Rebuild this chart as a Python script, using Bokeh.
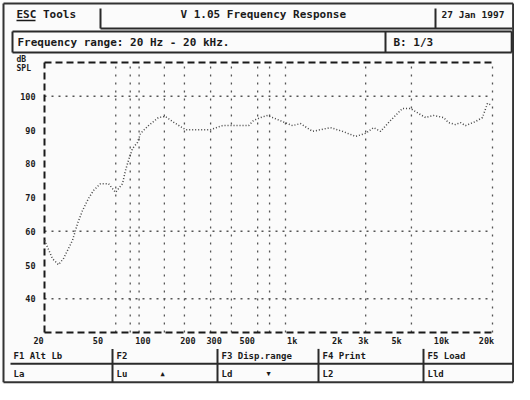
import math
from bokeh.plotting import figure
from bokeh.models import Range1d, LogScale
from bokeh.embed import file_html
from bokeh.resources import INLINE
from bokeh.core.properties import value

# ---------------- data ----------------
freq_hz = [20, 22.6, 24.8, 26.8, 30.8, 33.3, 35.9, 39.4, 42.6, 47.4,
           53.7, 59.8, 66.6, 69.7, 73.0, 77.7, 83.9, 87.9, 99.3, 116,
           129, 144, 176, 229, 259, 311, 465, 502, 559, 623,
           916, 1036, 1247, 1646, 1982, 2421, 2825, 3194, 3557, 4087,
           4620, 4991, 5645, 6386, 7125, 8052, 9398, 10150, 11310, 12210,
           13190, 15380, 17140, 18520, 19800]
level_db = [57.3, 51.9, 50.1, 51.9, 57.3, 62.3, 66.1, 69.7, 72.1, 74.1,
            74.1, 71.5, 74.1, 78.0, 81.0, 84.5, 86.3, 89.0, 91.3, 93.7,
            94.0, 92.5, 90.1, 90.1, 90.1, 91.3, 91.3, 92.8, 93.7, 94.3,
            91.3, 91.9, 89.6, 90.7, 89.6, 88.1, 89.0, 90.7, 89.6, 92.5,
            94.9, 96.4, 96.4, 94.9, 93.7, 94.3, 93.7, 92.2, 91.6, 92.2,
            91.3, 92.5, 93.7, 97.9, 97.3]

x_tick_values = [20, 50, 100, 200, 300, 500, 1000, 2000, 3000, 5000, 10000, 20000]
x_tick_labels = ["20", "50", "100", "200", "300", "500", "1k", "2k", "3k", "5k", "10k", "20k"]
y_tick_values = [100, 90, 80, 70, 60, 50, 40]
y_tick_labels = ["100", "90", "80", "70", "60", "50", "40"]
v_grid_hz = [60, 75, 86, 127, 173, 259, 357, 535, 643, 822, 2830, 5730, 20000]
h_grid_db = [100, 60, 40]
f_min, f_max = 20, 20000
db_min, db_max = 30, 110

title_text = "V 1.05   Frequency Response"
esc_text = "ESC Tools"
date_text = "27 Jan 1997"
range_text = "Frequency range: 20 Hz - 20 kHz."
band_text = "B: 1/3"
fkeys = ["F1 Alt  Lb", "F2", "F3 Disp.range", "F4 Print", "F5 Load"]
lkeys = ["La", "Lu", "Ld", "L2", "Lld"]

# ---------------- layout ----------------
W, H = 514, 384
FL, FR, FT, FB = 44, 492, 62, 332   # plot frame in reference pixels


def X(rx):
    return rx if rx <= 500 else 500 + (rx - 500) * 14.0 / 30.0


def Y(ry):
    r = ry if ry <= 338 else 338 + (ry - 338) * 46.0 / 62.0
    return H - r


dec_per_px = (math.log10(f_max) - math.log10(f_min)) / (FR - FL)
fr_lo = 10 ** (math.log10(f_min) - FL * dec_per_px)
fr_hi = 10 ** (math.log10(f_min) + (W - FL) * dec_per_px)
db_per_px = (db_max - db_min) / (FB - FT)
dr_lo = db_min - (H - FB) * db_per_px
dr_hi = db_max + FT * db_per_px

p = figure(width=W, height=H, x_range=Range1d(0, W), y_range=Range1d(0, H),
           x_axis_type=None, y_axis_type=None, output_backend="svg",
           toolbar_location=None, min_border=0,
           background_fill_color="#fbfbfb", border_fill_color="#fbfbfb")
p.grid.visible = False
p.outline_line_color = None
p.extra_x_ranges = {"f": Range1d(fr_lo, fr_hi)}
p.extra_x_scales = {"f": LogScale()}
p.extra_y_ranges = {"db": Range1d(dr_lo, dr_hi)}

INK = "#1a1a1a"
FONT = value("DejaVu Sans Mono")

# grid
p.segment(x0=v_grid_hz, y0=[db_min] * len(v_grid_hz), x1=v_grid_hz, y1=[db_max] * len(v_grid_hz),
          x_range_name="f", y_range_name="db", line_color="#555555", line_width=1.3, line_dash="2 6")
p.segment(x0=[f_min] * len(h_grid_db), y0=h_grid_db, x1=[f_max] * len(h_grid_db), y1=h_grid_db,
          x_range_name="f", y_range_name="db", line_color="#555555", line_width=1.3, line_dash="2 5")

# frame (dashed)
p.segment(x0=[f_min, f_min, f_min], y0=[db_max, db_min, db_min],
          x1=[f_max, f_max, f_min], y1=[db_max, db_min, db_max],
          x_range_name="f", y_range_name="db", line_color=INK, line_width=2, line_dash="7 4")

# curve
p.line(freq_hz, level_db, x_range_name="f", y_range_name="db",
       line_color="#444444", line_width=1.5, line_dash="1 2")

# tick labels
p.text(x=x_tick_values, y=[Y(341)] * len(x_tick_values), text=x_tick_labels, x_range_name="f",
       text_align="center", text_baseline="middle", x_offset=-6,
       text_font=FONT, text_font_size="8.5px", text_font_style="bold", text_color=INK)
p.text(x=[X(35)] * len(y_tick_values), y=y_tick_values, text=y_tick_labels, y_range_name="db",
       text_align="right", text_baseline="middle",
       text_font=FONT, text_font_size="8.5px", text_font_style="bold", text_color=INK)
p.text(x=[X(16), X(16)], y=[Y(59), Y(68)], text=["dB", "SPL"],
       text_align="left", text_baseline="middle",
       text_font=FONT, text_font_size="8px", text_font_style="bold", text_color=INK)

# ---------------- header / footer boxes ----------------
# outer border
p.segment(x0=[X(3), X(3), X(3), X(527)], y0=[Y(397), Y(3), Y(397), Y(397)],
          x1=[X(527), X(527), X(3), X(527)], y1=[Y(397), Y(3), Y(3), Y(3)],
          line_color="#333333", line_width=2)
bx0 = [X(100), X(100), X(435), X(12), X(12), X(12), X(385),
       X(10), X(112), X(217), X(318), X(423)]
by0 = [Y(8), Y(28), Y(8), Y(31), Y(52), Y(31), Y(31),
       Y(372), Y(352), Y(352), Y(352), Y(352)]
bx1 = [X(100), X(525), X(435), X(524), X(524), X(12), X(385),
       X(527), X(112), X(217), X(318), X(423)]
by1 = [Y(28), Y(28), Y(28), Y(31), Y(52), Y(52), Y(52),
       Y(372), Y(397), Y(397), Y(397), Y(397)]
p.segment(x0=bx0, y0=by0, x1=bx1, y1=by1, line_color="#2a2a2a", line_width=2)
p.segment(x0=[X(524)], y0=[Y(31)], x1=[X(524)], y1=[Y(52)], line_color="#2a2a2a", line_width=2)

# header texts
p.text(x=[X(16), X(180), X(17), X(393)],
       y=[Y(14), Y(14), Y(42), Y(42)],
       text=[esc_text, title_text, range_text, band_text],
       text_align="left", text_baseline="middle",
       text_font=FONT, text_font_size="11px", text_font_style="bold", text_color=INK)
p.text(x=[X(441)], y=[Y(14)], text=[date_text],
       text_align="left", text_baseline="middle",
       text_font=FONT, text_font_size="9.5px", text_font_style="bold", text_color=INK)
p.segment(x0=[X(16)], y0=[Y(20)], x1=[X(35)], y1=[Y(20)], line_color=INK, line_width=1.5)

# footer texts
cell_x = [X(13), X(116), X(221), X(322), X(427)]
p.text(x=cell_x, y=[Y(362)] * 5, text=fkeys, text_align="left", text_baseline="middle",
       text_font=FONT, text_font_size="9px", text_font_style="bold", text_color=INK)
p.text(x=cell_x, y=[Y(386)] * 5, text=lkeys, text_align="left", text_baseline="middle",
       text_font=FONT, text_font_size="9px", text_font_style="bold", text_color=INK)
p.text(x=[X(162), X(268)], y=[Y(386), Y(386)], text=["\u25b2", "\u25bc"],
       text_align="center", text_baseline="middle",
       text_font=FONT, text_font_size="7px", text_color=INK)

open("out.html", "w").write(file_html(p, INLINE))
